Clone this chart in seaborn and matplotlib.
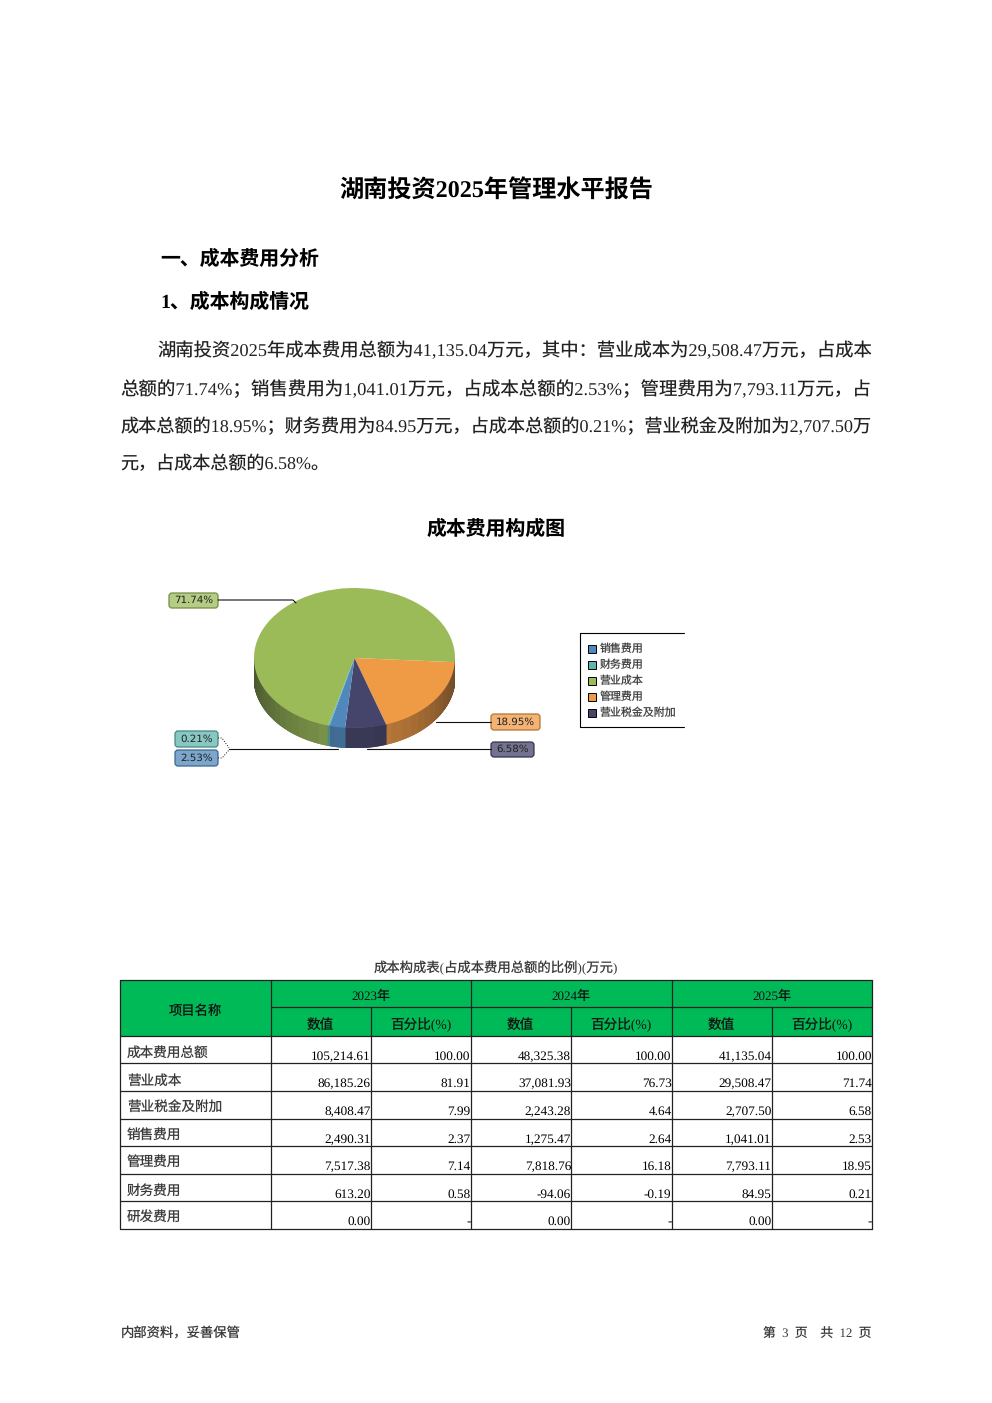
import numpy as np
import matplotlib
matplotlib.use("Agg")
import matplotlib.pyplot as plt
from matplotlib.patches import FancyBboxPatch, Rectangle
import seaborn as sns

# pie data
categories = ["营业成本", "管理费用", "营业税金及附加", "销售费用", "财务费用"]
shares = [71.74, 18.95, 6.58, 2.53, 0.21]
legend_order = ["销售费用", "财务费用", "营业成本", "管理费用", "营业税金及附加"]

# table data
years = ["2023年", "2024年", "2025年"]
row_names = ["成本费用总额", "营业成本", "营业税金及附加", "销售费用", "管理费用", "财务费用", "研发费用"]
values_2023 = ["105,214.61", "86,185.26", "8,408.47", "2,490.31", "7,517.38", "613.20", "0.00"]
pct_2023 = ["100.00", "81.91", "7.99", "2.37", "7.14", "0.58", "-"]
values_2024 = ["48,325.38", "37,081.93", "2,243.28", "1,275.47", "7,818.76", "-94.06", "0.00"]
pct_2024 = ["100.00", "76.73", "4.64", "2.64", "16.18", "-0.19", "-"]
values_2025 = ["41,135.04", "29,508.47", "2,707.50", "1,041.01", "7,793.11", "84.95", "0.00"]
pct_2025 = ["100.00", "71.74", "6.58", "2.53", "18.95", "0.21", "-"]

paragraph = [
    "湖南投资2025年成本费用总额为41,135.04万元，其中：营业成本为29,508.47万元，占成本",
    "总额的71.74%；销售费用为1,041.01万元，占成本总额的2.53%；管理费用为7,793.11万元，占",
    "成本总额的18.95%；财务费用为84.95万元，占成本总额的0.21%；营业税金及附加为2,707.50万",
    "元，占成本总额的6.58%。",
]

sns.set_theme(style="white")
plt.rcParams["font.family"] = ["Liberation Serif", "Noto Sans CJK SC", "DejaVu Sans"]
plt.rcParams["text.hinting"] = "no_hinting"

colors = dict(zip(categories, sns.color_palette(["#9BBB59", "#EF9A45", "#45446A", "#5088BB", "#5FB5AD"])))

fig = plt.figure(figsize=(9.92, 14.03), dpi=100, facecolor="white")

# pie axes, placed in page pixels
W, H = 992, 1403
depth = 20 / 70
pie_ax = fig.add_axes([254 / W, 1 - 748 / H, 201 / W, 160 / H])

# side wall first, so the top sits over it
start = -105.2
edges = start - np.concatenate([[0], np.cumsum(shares)]) * 3.6
for i, cat in enumerate(categories):
    a0, a1 = edges[i], edges[i + 1]
    n = max(int(abs(a1 - a0) * 2), 2)
    thetas = np.linspace(a0, a1, n + 1)
    shades = sns.blend_palette(["#111111", colors[cat]], 40)
    for t0, t1 in zip(thetas[:-1], thetas[1:]):
        mid = np.deg2rad((t0 + t1) / 2)
        if np.sin(mid) >= 0:
            continue
        # darker at the left and right rims, lighter at the front
        k = 0.42 + 0.36 * abs(np.sin(mid)) ** 1.5
        c = shades[int(k * 39)]
        xs = np.cos(np.deg2rad([t0, t1]))
        ys = np.sin(np.deg2rad([t0, t1]))
        pie_ax.fill([xs[0], xs[1], xs[1], xs[0]],
                    [ys[0], ys[1], ys[1] - depth, ys[0] - depth],
                    color=c, lw=0.6)

pie_ax.pie(shares, colors=[colors[c] for c in categories], startangle=start,
           counterclock=False, radius=1, wedgeprops={"linewidth": 0})
pie_ax.set_aspect("auto")
pie_ax.set_xlim(-1, 1)
pie_ax.set_ylim(-1 - depth, 1)
pie_ax.axis("off")

# page axes in pixel coordinates
ax = fig.add_axes([0, 0, 1, 1], zorder=3)
ax.set_xlim(0, W)
ax.set_ylim(H, 0)
ax.axis("off")
ax.patch.set_alpha(0)


def put(x, y, s, size, ha="left", weight="normal", color="black", family=None):
    kw = {"family": family} if family else {}
    return ax.text(x, y, s, fontsize=size, ha=ha, va="center", fontweight=weight, color=color, **kw)


# headings
put(496, 190.5, "湖南投资2025年管理水平报告", 17.4, ha="center", weight="bold")
put(160, 259.5, "一、成本费用分析", 14.3, weight="bold")
put(160, 302.5, "1、成本构成情况", 14.3, weight="bold")
put(496, 529.5, "成本费用构成图", 14.3, ha="center", weight="bold")

# paragraph, each full line fitted to the text block width
renderer = fig.canvas.get_renderer()
line_y = [351, 389, 426.5, 464]
line_x = [157.5, 120.5, 120.5, 120.5]
for s, x, y, i in zip(paragraph, line_x, line_y, range(4)):
    t = put(x, y, s, 13, color="#222222")
    if i < 3:
        for _ in range(3):
            width = t.get_window_extent(renderer).width
            t.set_fontsize(t.get_fontsize() * (871.5 - x) / width)

# leader lines
lead = "#111111"
ax.plot([218, 293, 296], [600, 600, 603], color=lead, lw=0.8)
ax.plot([436, 491], [722, 722], color=lead, lw=0.8)
ax.plot([367, 491], [749, 749], color=lead, lw=0.8)
ax.plot([229, 338], [749, 749], color=lead, lw=0.8)
ax.plot([218, 222, 229], [738, 738, 748], color=lead, lw=0.7, ls=":")
ax.plot([218, 222, 229], [758, 758, 750], color=lead, lw=0.7, ls=":")

# callout labels
callouts = [
    ("营业成本", 169, 593, 49, 15),
    ("管理费用", 491, 714, 49, 16),
    ("营业税金及附加", 491, 742, 43, 15),
    ("财务费用", 175, 731, 43, 16),
    ("销售费用", 175, 750, 43, 16),
]
for cat, x, y, w, h in callouts:
    base = colors[cat]
    face = sns.blend_palette([base, "white"], 5)[1]
    edge = sns.blend_palette([base, "black"], 5)[1]
    ax.add_patch(FancyBboxPatch((x + 2, y + 2), w - 4, h - 4, boxstyle="round,pad=2,rounding_size=3",
                                fc=face, ec=edge, lw=0.9))
    pct = shares[categories.index(cat)]
    put(x + w / 2, y + h / 2, f"{pct:.2f}%", 7.4, ha="center", color="#222222", family="DejaVu Sans")

# legend box, open on the right
ax.plot([683.5, 579.5, 579.5, 683.5], [633, 633, 727, 727], color="black", lw=0.8)
for i, cat in enumerate(legend_order):
    y = 648.5 + 16 * i
    ax.add_patch(Rectangle((588, y - 4), 8, 8, fc=colors[cat], ec="black", lw=0.7))
    put(600, y + 0.5, cat, 7.9, color="#444444", family="Noto Sans CJK SC")

# table
soft = "#3a3a3a"
put(496, 968, "成本构成表(占成本费用总额的比例)(万元)", 9.6, ha="center", color=soft)

col_x = [119.5, 270.5, 370.5, 470.5, 571, 671.5, 771.5, 872]
row_y = [1035.5, 1063, 1090.5, 1118.5, 1145.5, 1173.5, 1200.5, 1228.5]
head_top, head_mid = 979.5, 1006.5
ax.add_patch(Rectangle((col_x[0], head_top), col_x[-1] - col_x[0], row_y[0] - head_top,
                       fc="#00BA58", ec="none"))
line = "#222222"
for y in row_y + [head_top]:
    ax.plot([col_x[0], col_x[-1]], [y, y], color=line, lw=0.9)
ax.plot([col_x[1], col_x[-1]], [head_mid, head_mid], color=line, lw=0.9)
for i, x in enumerate(col_x):
    top = head_mid if i in (2, 4, 6) else head_top
    ax.plot([x, x], [top, row_y[-1]], color=line, lw=0.9)

put((col_x[0] + col_x[1]) / 2, 1011, "项目名称", 9.6, ha="center", color="#111111")
for i, year in enumerate(years):
    put((col_x[1 + 2 * i] + col_x[3 + 2 * i]) / 2, 997, year, 9.4, ha="center", color="#111111")
    put((col_x[1 + 2 * i] + col_x[2 + 2 * i]) / 2, 1025, "数值", 9.8, ha="center", color="#111111")
    put((col_x[2 + 2 * i] + col_x[3 + 2 * i]) / 2, 1025, "百分比(%)", 9.8, ha="center", color="#111111")

columns = [values_2023, pct_2023, values_2024, pct_2024, values_2025, pct_2025]
for r, name in enumerate(row_names):
    put(127, row_y[r] + 18, name, 9.8, color=soft)
    for c, col in enumerate(columns):
        put(col_x[c + 2], row_y[r] + 21, col[r], 9.5, ha="right")

# footer
put(121, 1334, "内部资料，妥善保管", 9.6, color=soft)
put(871, 1334, "第  3  页    共  12  页", 9.2, ha="right", color=soft)

fig.savefig("out.png", dpi=100, facecolor="white")
